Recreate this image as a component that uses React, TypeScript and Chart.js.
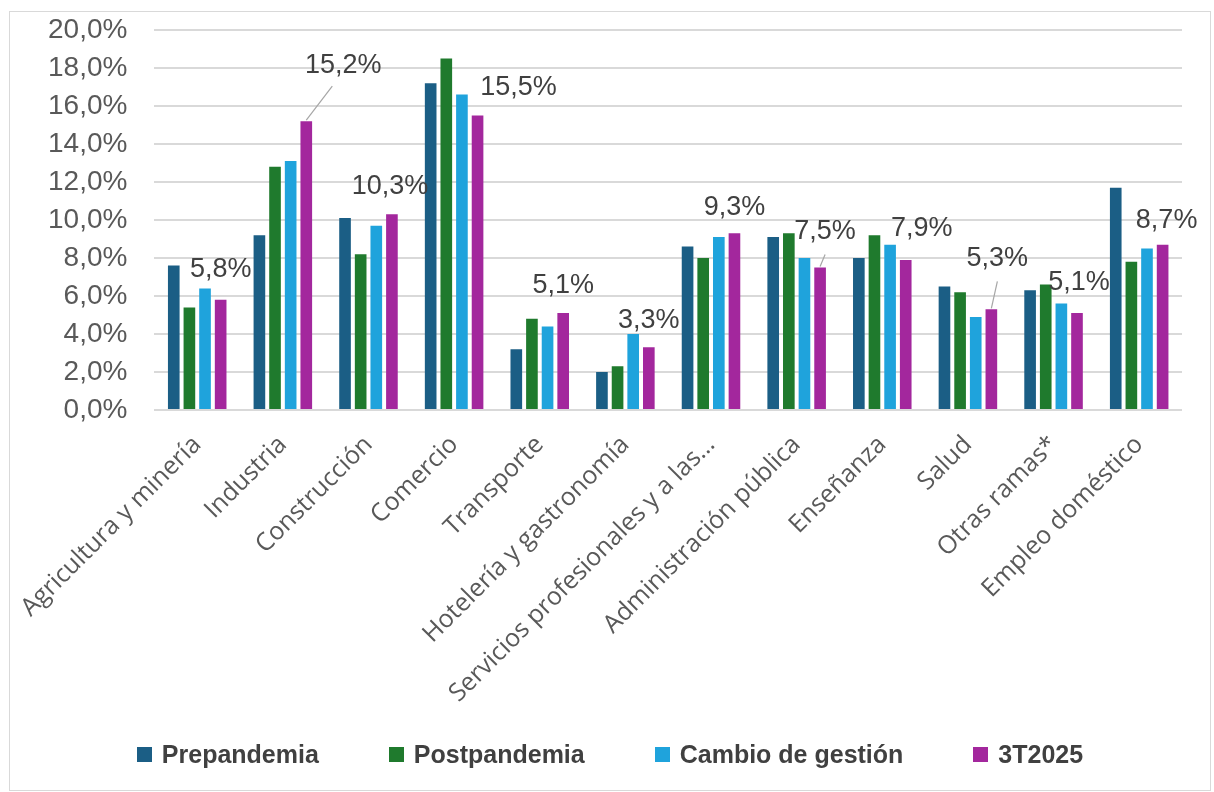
import React, { useEffect, useRef } from "react";
import { Chart, registerables } from "chart.js";

Chart.register(...registerables);

const categories = [
  "Agricultura y minería",
  "Industria",
  "Construcción",
  "Comercio",
  "Transporte",
  "Hotelería y gastronomía",
  "Servicios profesionales y a las…",
  "Administración pública",
  "Enseñanza",
  "Salud",
  "Otras ramas*",
  "Empleo doméstico",
];

const seriesNames = ["Prepandemia", "Postpandemia", "Cambio de gestión", "3T2025"];

const prepandemia = [7.6, 9.2, 10.1, 17.2, 3.2, 2.0, 8.6, 9.1, 8.0, 6.5, 6.3, 11.7];
const postpandemia = [5.4, 12.8, 8.2, 18.5, 4.8, 2.3, 8.0, 9.3, 9.2, 6.2, 6.6, 7.8];
const cambioGestion = [6.4, 13.1, 9.7, 16.6, 4.4, 4.0, 9.1, 8.0, 8.7, 4.9, 5.6, 8.5];
const t3_2025 = [5.8, 15.2, 10.3, 15.5, 5.1, 3.3, 9.3, 7.5, 7.9, 5.3, 5.1, 8.7];

const yMin = 0;
const yMax = 20;
const yStep = 2;

const seriesColors = ["#1b5e85", "#1f7a2d", "#1fa3dc", "#a3279d"];

// label placement (offset of label centre from the bar top), styling only
const labelOffsets: [number, number][] = [
  [0, -30], [37, -56], [-2, -28], [41, -28], [0, -28], [0, -27],
  [0, -26], [5, -36], [16, -31], [6, -51], [2, -31], [4, -24],
];
// leader line end (relative to bar top), null = none
const leaderEnds: ([number, number] | null)[] = [
  null, [26, -35], null, null, null, null, null, [5, -13], null, [6, -28], null, null,
];

const fmt = (v: number) => v.toFixed(1).replace(".", ",") + "%";

const labelPlugin = {
  id: "lastSeriesLabels",
  afterDatasetsDraw(chart: any) {
    const ctx = chart.ctx;
    const dsIndex = 3;
    const meta = chart.getDatasetMeta(dsIndex);
    const data = chart.data.datasets[dsIndex].data as number[];
    ctx.save();
    meta.data.forEach((bar: any, i: number) => {
      const [dx, dy] = labelOffsets[i];
      const le = leaderEnds[i];
      if (le) {
        ctx.strokeStyle = "#a6a6a6";
        ctx.lineWidth = 1.2;
        ctx.beginPath();
        ctx.moveTo(bar.x, bar.y - 1);
        ctx.lineTo(bar.x + le[0], bar.y + le[1]);
        ctx.stroke();
      }
      ctx.fillStyle = "#404040";
      ctx.font = "27px 'Liberation Sans', Arial, sans-serif";
      ctx.textAlign = "center";
      ctx.textBaseline = "middle";
      ctx.fillText(fmt(data[i]), bar.x + dx, bar.y + dy);
    });
    ctx.restore();
  },
};

export default function App() {
  const canvasRef = useRef<HTMLCanvasElement | null>(null);

  useEffect(() => {
    if (!canvasRef.current) return;
    const allSeries = [prepandemia, postpandemia, cambioGestion, t3_2025];
    const chart = new Chart(canvasRef.current, {
      type: "bar",
      data: {
        labels: categories,
        datasets: allSeries.map((d, i) => ({
          label: seriesNames[i],
          data: d,
          backgroundColor: seriesColors[i],
          borderWidth: 0,
          categoryPercentage: 0.73,
          barPercentage: 0.745,
        })),
      },
      options: {
        responsive: false,
        maintainAspectRatio: false,
        animation: false,
        layout: { autoPadding: false, padding: { left: 21, right: 32, top: 30, bottom: 0 } },
        plugins: {
          tooltip: { enabled: false },
          legend: { display: false },
        },
        scales: {
          x: {
            grid: { display: false, drawTicks: false },
            border: { display: false },
            ticks: {
              autoSkip: false,
              maxRotation: 45,
              minRotation: 45,
              padding: 20,
              color: "#595959",
              font: { family: "'Open Sans', sans-serif", size: 25 },
            },
            afterFit: (scale: any) => {
              scale.height = 382;
              scale.paddingLeft = 0;
              scale.paddingRight = 0;
            },
          },
          y: {
            min: yMin,
            max: yMax,
            border: { display: false },
            grid: { color: "#d9d9d9", lineWidth: 2, drawTicks: false },
            ticks: {
              stepSize: yStep,
              padding: 27,
              color: "#595959",
              font: { family: "'Liberation Sans', Arial, sans-serif", size: 28 },
              callback: (v: any) => fmt(Number(v)),
            },
            afterFit: (scale: any) => {
              scale.paddingTop = 0;
              scale.paddingBottom = 0;
            },
          },
        },
      },
      plugins: [labelPlugin],
    });
    return () => chart.destroy();
  }, []);

  return (
    <div style={{ position: "absolute", left: 0, top: 0, width: 1214, height: 792, background: "#ffffff" }}>
      <div
        style={{
          position: "absolute",
          left: 9,
          top: 11,
          width: 1200,
          height: 778,
          border: "1px solid #d9d9d9",
          pointerEvents: "none",
        }}
      />
      <canvas ref={canvasRef} width={1214} height={792} style={{ position: "absolute", left: 0, top: 0 }} />
      <div
        style={{
          position: "absolute",
          left: 9,
          width: 1202,
          top: 734,
          height: 40,
          display: "flex",
          justifyContent: "center",
          alignItems: "center",
          gap: 70,
          fontFamily: "'Liberation Sans', Arial, sans-serif",
          fontWeight: "bold",
          fontSize: 25,
          color: "#404040",
        }}
      >
        {seriesNames.map((name, i) => (
          <div key={name} style={{ display: "flex", alignItems: "center", gap: 10 }}>
            <span style={{ width: 15, height: 15, background: seriesColors[i], display: "inline-block" }} />
            <span>{name}</span>
          </div>
        ))}
      </div>
    </div>
  );
}
